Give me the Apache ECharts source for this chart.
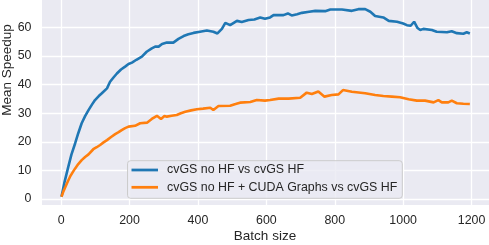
<!DOCTYPE html>
<html>
<head>
<meta charset="utf-8">
<script src="https://cdn.jsdelivr.net/npm/echarts@6/dist/echarts.min.js"></script>
<style>
html,body{margin:0;padding:0;background:#fff;}
#c{width:489px;height:245px;}
</style>
</head>
<body>
<div id="c"></div>
<script>
const seriesNames = ['cvGS no HF vs cvGS HF', 'cvGS no HF + CUDA Graphs vs cvGS HF'];
const xTitle = 'Batch size';
const yTitle = 'Mean Speedup';
const xTicks = [0, 200, 400, 600, 800, 1000, 1200];
const yTicks = [0, 10, 20, 30, 40, 50, 60];

const blueX = [1,10,21,30,41,50,60,70,80,90,99,110,119,134,143,153,163,175,187,197,207,220,236,250,265,275,285,295,309,328,343,358,372,387,406,426,445,457,470,480,494,514,528,548,565,582,596,611,621,650,663,674,690,704,725,743,772,787,821,850,869,889,904,918,923,942,958,982,1000,1011,1022,1032,1042,1050,1059,1084,1098,1128,1142,1157,1176,1186,1195];
const blueY = [0.8,6,11.3,15.5,19.5,23,26.5,29,31.1,33,34.6,36,37,38.7,41,42.5,43.9,45.3,46.3,47.2,47.7,48.7,49.8,51.5,52.7,53.3,53.3,54.2,54.7,54.7,56,57,57.6,58.1,58.5,58.9,58.5,57.9,59.5,61.6,60.8,62.3,61.9,62.6,62.8,63.5,63.0,63.5,64.3,64.3,64.9,64.2,64.6,65.1,65.5,65.8,65.7,66.3,66.3,65.8,66.4,66.4,65.5,64.0,63.8,63.5,62.3,62.0,61.4,60.8,60.6,62.0,59.8,59.1,59.5,59.1,58.5,58.3,58.7,58.0,57.8,58.3,57.9];

const orangeX = [1,6,12,20,26,34,41,50,60,70,80,94,104,114,124,134,146,158,168,177,187,197,216,231,251,265,280,292,302,309,323,338,350,363,380,397,415,436,445,460,494,510,523,553,572,596,611,636,665,699,718,733,752,770,791,811,824,850,889,918,942,967,991,1016,1040,1064,1089,1103,1113,1132,1142,1157,1176,1195];
const orangeY = [0.8,2.5,4.1,6.3,7.8,9.4,10.7,12.2,13.6,14.7,15.6,17.4,18.1,18.9,19.8,20.6,21.7,22.7,23.4,24.1,24.8,25.3,25.6,26.5,26.7,28,29.1,28,29,28.8,29.1,29.4,30,30.5,31,31.4,31.6,31.9,31.1,32.5,32.6,33.2,33.7,33.9,34.6,34.4,34.6,35.1,35.1,35.4,37.2,36.7,37.6,35.8,36.4,36.6,38.1,37.5,37,36.4,36,35.8,35.6,34.9,34.4,34.4,33.8,34.6,33.8,33.8,34.4,33.5,33.3,33.2];

const pairs = (xs, ys) => xs.map((x, i) => [x, ys[i]]);
const FONT = '"Liberation Sans", Arial, sans-serif';
const TXT = '#262626';
const lineIcon = 'path://M0,0L26,0L26,2.7L0,2.7Z';

const chart = echarts.init(document.getElementById('c'), null, {renderer: 'canvas'});
chart.setOption({
  animation: false,
  backgroundColor: '#ffffff',
  grid: {
    left: 42, right: 0, top: 0, bottom: 40,
    containLabel: false, outerBoundsMode: 'none',
    show: true, backgroundColor: '#EAEAF2', borderWidth: 0
  },
  xAxis: {
    type: 'value', min: -56, max: 1251,
    axisLine: {show: false},
    axisTick: {show: false, customValues: xTicks},
    axisLabel: {customValues: xTicks, formatter: v => String(v),
      fontFamily: FONT, fontSize: 12.4, color: TXT, margin: 10},
    splitLine: {show: true, lineStyle: {color: '#ffffff', width: 1.3}}
  },
  yAxis: {
    type: 'value', min: -2.1, max: 69.6,
    axisLine: {show: false},
    axisTick: {show: false, customValues: yTicks},
    axisLabel: {customValues: yTicks, formatter: v => String(v),
      fontFamily: FONT, fontSize: 12.4, color: TXT, margin: 10.5},
    splitLine: {show: true, lineStyle: {color: '#ffffff', width: 1.3}}
  },
  graphic: [
    {type: 'text', x: 265, y: 236.5,
     style: {text: xTitle, font: '13.5px ' + FONT, fill: TXT, align: 'center', verticalAlign: 'middle'}},
    {type: 'text', x: 7, y: 70, rotation: Math.PI / 2,
     style: {text: yTitle, font: '13.5px ' + FONT, fill: TXT, align: 'center', verticalAlign: 'middle'}}
  ],
  legend: {
    orient: 'vertical', left: 127.5, top: 160.7,
    data: seriesNames.map(n => ({name: n, icon: lineIcon})),
    itemWidth: 26.5, itemHeight: 14, itemGap: 3.3,
    padding: [2.3, 5, 4, 4],
    backgroundColor: 'rgba(234,234,242,0.8)',
    borderColor: '#cccccc', borderWidth: 1, borderRadius: 3,
    textStyle: {fontFamily: FONT, fontSize: 12.4, lineHeight: 14, color: TXT, padding: [0, 0, 0, 4]}
  },
  series: [
    {name: seriesNames[0], type: 'line', data: pairs(blueX, blueY), symbol: 'none',
     lineStyle: {color: '#1f77b4', width: 2.6}, itemStyle: {color: '#1f77b4'}},
    {name: seriesNames[1], type: 'line', data: pairs(orangeX, orangeY), symbol: 'none',
     lineStyle: {color: '#ff7f0e', width: 2.6}, itemStyle: {color: '#ff7f0e'}}
  ]
});
</script>
</body>
</html>
